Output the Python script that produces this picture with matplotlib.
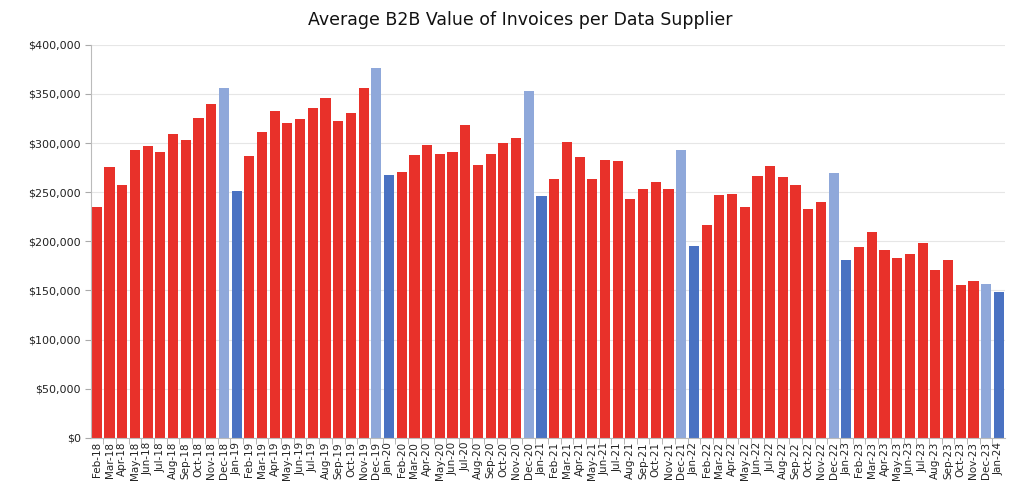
import matplotlib
matplotlib.use("Agg")
import matplotlib.pyplot as plt
from matplotlib.ticker import FuncFormatter, FixedLocator

# monthly average B2B invoice value per data supplier, Feb-18 .. Jan-24
months = ["Feb", "Mar", "Apr", "May", "Jun", "Jul", "Aug", "Sep", "Oct", "Nov", "Dec", "Jan"]
labels = []
for yr in range(18, 24):
    for m in months:
        labels.append(f"{m}-{yr + 1 if m == 'Jan' else yr}")

values = [
    235000, 276000, 257000, 293000, 297000, 290500, 309000, 303500, 326000, 339500, 356500, 251000,
    286500, 311500, 333000, 320500, 325000, 335500, 346000, 322500, 331000, 356500, 376500, 268000,
    270500, 288000, 298500, 289000, 290500, 318500, 277500, 289000, 300000, 305000, 353000, 246000,
    263000, 301000, 285500, 263000, 282500, 281500, 243000, 253500, 260500, 253500, 293000, 195500,
    216500, 247000, 248500, 235000, 267000, 276500, 265500, 257500, 232500, 240500, 269500, 181000,
    194000, 209000, 191500, 183500, 187500, 198500, 170500, 181000, 155500, 160000, 157000, 148000,
]

red = "#E8312A"
dec_blue = "#8FA8DA"
jan_blue = "#4A72C2"
colors = []
for lab in labels:
    if lab.startswith("Dec"):
        colors.append(dec_blue)
    elif lab.startswith("Jan"):
        colors.append(jan_blue)
    else:
        colors.append(red)

fig = plt.figure(figsize=(10.24, 4.93), dpi=100)
ax = fig.add_axes([0.089, 0.112, 0.892, 0.797])

x = list(range(len(values)))
ax.bar(x, values, width=0.8, color=colors, zorder=2)

ax.set_xlim(-0.45, len(values) - 0.55)
ax.set_ylim(0, 400000)
ax.set_yticks(range(0, 400001, 50000))
ax.yaxis.set_major_formatter(FuncFormatter(lambda v, p: f"${v:,.0f}"))
ax.grid(axis="y", color="#e6e6e6", linewidth=0.8, zorder=0)

ax.set_xticks(x)
ax.set_xticklabels(labels, rotation=90, fontsize=7.5, color="#222222")
ax.tick_params(axis="x", length=0, pad=3)
ax.xaxis.set_minor_locator(FixedLocator([i - 0.5 for i in range(len(values) + 1)]))
ax.tick_params(axis="x", which="minor", length=4, color="#aaaaaa")
ax.tick_params(axis="y", length=4, color="#aaaaaa", labelsize=8, labelcolor="#222222")

for s in ["top", "right"]:
    ax.spines[s].set_visible(False)
ax.spines["left"].set_color("#bbbbbb")
ax.spines["bottom"].set_color("#bbbbbb")

fig.suptitle("Average B2B Value of Invoices per Data Supplier", fontsize=12.5, x=0.508, y=0.978, color="#111111")

fig.savefig("out.png", dpi=100)
